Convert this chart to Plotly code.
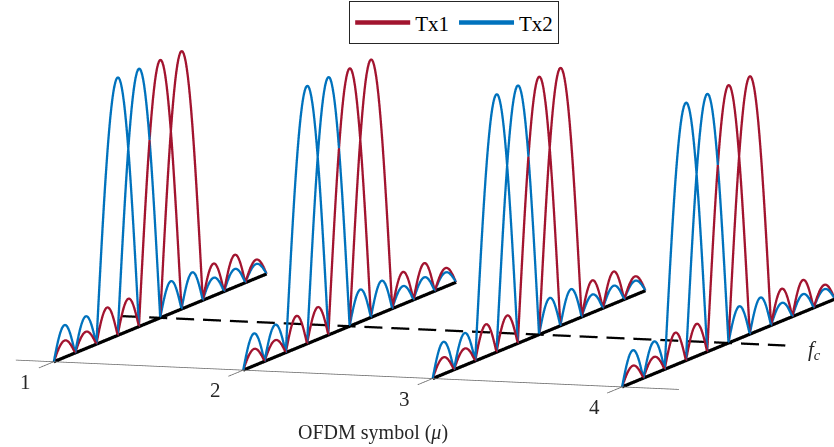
import math
import plotly.graph_objects as go

# ---------------- data ----------------
symbols = [1, 2, 3, 4]                 # OFDM symbol index (mu)
tick_labels = ["1", "2", "3", "4"]
n_intervals = 10                       # frequency span in subcarrier spacings
fc = 5                                 # centre frequency position
tx1_subcarriers = [5, 6]               # main lobes of Tx1
tx2_subcarriers = [3, 4]               # main lobes of Tx2
main_peak = 1.0
# side-lobe heights on each unit interval [k, k+1] (None = no side lobe drawn there)
tx1_sidelobes = [0.065, 0.065, 0.125, 0.125, None, None, None, 0.125, 0.125, 0.072]
tx2_sidelobes = [0.125, 0.125, None, None, None, 0.125, 0.125, 0.07, 0.07, 0.055]
x_limits = [0.8, 4.3]

RED = "#A2142F"
BLUE = "#0072BD"
FONT = "Liberation Serif"
DASH_ON, DASH_OFF = 0.095, 0.047       # dash pattern of the fc line (symbol units)


def pieces_for(subcarriers, sidelobes):
    p = [(k, k + 1, a) for k, a in enumerate(sidelobes) if a is not None]
    p += [(c - 1, c + 1, main_peak) for c in subcarriers]
    return sorted(p)


def curve(pieces, n=40):
    """Half-sine arcs for every lobe; contiguous lobes joined, others split."""
    fs, zs = [], []
    prev_end = None
    for a, b, amp in pieces:
        if prev_end is not None and abs(prev_end - a) > 1e-9:
            fs.append(None); zs.append(None)
        for i in range(n + 1):
            if prev_end is not None and abs(prev_end - a) < 1e-9 and i == 0:
                continue
            f = a + (b - a) * i / n
            fs.append(f)
            zs.append(amp * math.sin(math.pi * (f - a) / (b - a)))
        prev_end = b
    return fs, zs


fig = go.Figure()

for name, subs, side, col in [("Tx1", tx1_subcarriers, tx1_sidelobes, RED),
                              ("Tx2", tx2_subcarriers, tx2_sidelobes, BLUE)]:
    fs, zs = curve(pieces_for(subs, side))
    X, Y, Z = [], [], []
    for s in symbols:
        X += [s if f is not None else None for f in fs] + [None]
        Y += fs + [None]
        Z += zs + [None]
    fig.add_trace(go.Scatter3d(x=X, y=Y, z=Z, mode="lines", name=name,
                               line=dict(color=col, width=4.6),
                               hoverinfo="skip", connectgaps=False))

# frequency axes of each symbol
X, Y, Z = [], [], []
for s in symbols:
    X += [s, s, None]; Y += [0, n_intervals, None]; Z += [0, 0, None]
fig.add_trace(go.Scatter3d(x=X, y=Y, z=Z, mode="lines", showlegend=False,
                           line=dict(color="black", width=6.5), hoverinfo="skip"))

# fc dashed line (dash pattern built along the symbol axis)
X, Y, Z = [], [], []
x0 = x_limits[0]
while x0 < x_limits[1] - 1e-9:
    x1 = min(x0 + DASH_ON, x_limits[1])
    X += [x0, x1, None]; Y += [fc, fc, None]; Z += [0, 0, None]
    x0 += DASH_ON + DASH_OFF
fig.add_trace(go.Scatter3d(x=X, y=Y, z=Z, mode="lines", showlegend=False,
                           hoverinfo="skip", connectgaps=False,
                           line=dict(color="black", width=4.5)))

# symbol axis line and ticks
X = list(x_limits) + [None]; Y = [0, 0, None]; Z = [0, 0, None]
for s in symbols:
    X += [s, s, None]; Y += [0, -0.7, None]; Z += [0, 0, None]
fig.add_trace(go.Scatter3d(x=X, y=Y, z=Z, mode="lines", showlegend=False,
                           hoverinfo="skip", line=dict(color="#6e6e6e", width=1.6)))

# ---------------- layout / projection ----------------
phi = math.radians(7.77)
alpha = math.radians(71.87)
d = 2.0
eye = dict(x=d * math.cos(phi) * math.cos(alpha),
           y=-d * math.cos(phi) * math.sin(alpha),
           z=d * math.sin(phi))
xr = [0.79, 4.31]
yr = [-3.5, 10.04]
zr = [-0.1, 1.05]
K = 226.5
aspect = dict(x=1.012 * 199.6 * (xr[1] - xr[0]) / K,
              y=69.3 * (yr[1] - yr[0]) / K,
              z=1.025 * 257.4 * (zr[1] - zr[0]) / K)

annots = []
for s, lab in zip(symbols, tick_labels):
    annots.append(dict(x=s, y=0, z=0, text=lab, showarrow=False,
                       xshift=-28, yshift=-20,
                       font=dict(family=FONT, size=21, color="#262626")))
annots.append(dict(x=x_limits[1], y=fc, z=0, text="<i>f<sub>c</sub></i>",
                   showarrow=False, xanchor="left", xshift=21, yshift=-4,
                   font=dict(family=FONT, size=21, color="#262626")))

ax = dict(visible=False, showspikes=False)
fig.update_layout(
    width=834, height=447,
    margin=dict(l=0, r=0, t=0, b=0),
    paper_bgcolor="white",
    scene=dict(
        xaxis=dict(range=xr, **ax),
        yaxis=dict(range=yr, **ax),
        zaxis=dict(range=zr, **ax),
        aspectmode="manual", aspectratio=aspect,
        camera=dict(eye=eye, up=dict(x=0, y=0, z=1),
                    center=dict(x=0, y=0, z=0),
                    projection=dict(type="orthographic")),
        domain=dict(x=[0, 1], y=[0, 1]),
        bgcolor="white",
        annotations=annots,
    ),
    legend=dict(orientation="h", x=0.5446, xanchor="center", y=0.997,
                yanchor="top", bordercolor="#262626", borderwidth=1,
                bgcolor="white", font=dict(family=FONT, size=21, color="black"),
                itemwidth=55),
    annotations=[dict(x=373 / 834, y=1 - 432 / 447, xref="paper", yref="paper",
                      yanchor="middle", xanchor="center",
                      text="OFDM symbol (<i>μ</i>)", showarrow=False,
                      font=dict(family=FONT, size=20, color="#262626"))],
)

fig.write_html("out.html", config={"displayModeBar": False})
